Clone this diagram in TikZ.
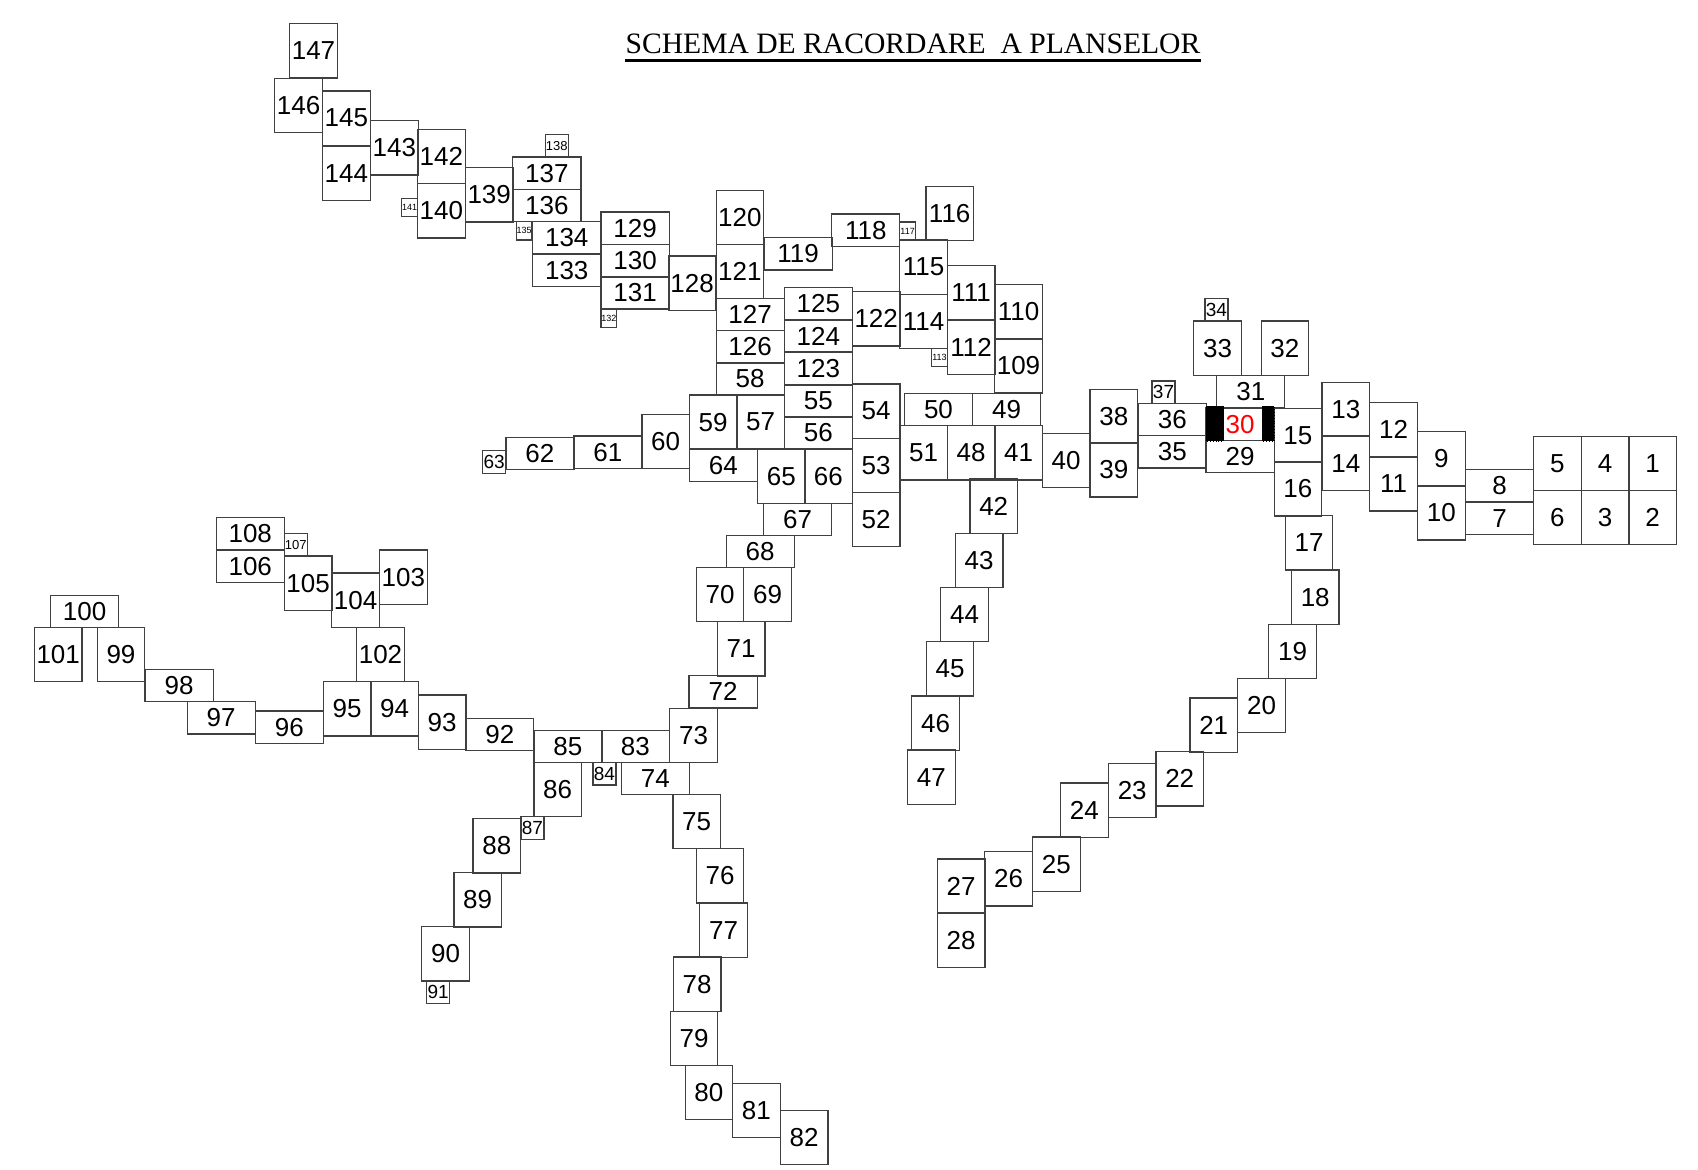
\documentclass[tikz,border=0pt]{standalone}
\usepackage{fontspec}
\setmainfont{Liberation Sans}
\newfontfamily\titlefont{Liberation Serif}
\usepackage{xcolor}
\usepackage{tikz}

\tikzset{
  sheet/.style={draw=black!75,line width=0.6pt,inner sep=0pt,outer sep=0pt,anchor=north west},
  sheetv/.style={sheet,minimum width=23.8pt,minimum height=27.1pt,font=\fontsize{13}{13}\selectfont},
  sheeth/.style={sheet,minimum width=34.05pt,minimum height=16.15pt,font=\fontsize{13}{13}\selectfont},
  sheets/.style={sheet,minimum width=11.5pt,minimum height=11.35pt,font=\fontsize{9.5}{9.5}\selectfont},
  sheett/.style={sheet,minimum width=7.85pt,minimum height=9.15pt,font=\fontsize{4.5}{4.5}\selectfont},
}

\begin{document}
\begin{tikzpicture}[x=0.5pt,y=-0.5pt]
  \useasboundingbox (0,0) rectangle (1698,1169);
  % title
  \node[font=\titlefont\fontsize{14.8}{14.8}\selectfont,anchor=base,inner sep=0pt] (title) at (913,53.3) {SCHEMA DE RACORDARE\ \ A PLANSELOR};
  \draw[line width=1.5pt] ([yshift=-3.4pt]title.base west) -- ([yshift=-3.4pt]title.base east);
  % portrait sheets
  \foreach \n/\x/\y in {147/289.7/23.7,146/274.8/78.3,145/322.6/91,144/322.6/146,143/370.5/120.7,
      142/417.5/129.3,140/417.5/183.7,139/465.4/167.7,128/668.3/256,120/716.1/190.3,121/716.1/244.3,
      116/925.9/186.3,115/899.8/240,114/899.8/294.3,111/947.3/265.7,112/947.3/320,110/994.7/284.7,
      109/994.7/338.7,122/852.4/291.7,33/1193.8/321,32/1261.1/321,59/689.4/395,57/736.8/395,
      60/641.9/414.3,54/852.4/384,53/852.4/438.3,52/852.4/492.3,51/899.8/425.7,48/947.3/425.7,
      41/994.7/425.7,40/1042.2/433.3,38/1090/389.3,39/1090/442.7,65/757.5/449,66/804.5/449,
      70/696.2/567.3,69/743.7/567.3,71/717.3/621.7,73/669.8/708.3,42/969.9/479,43/955.3/533.3,
      44/940.8/587.3,45/926.2/641.7,46/911.7/696,47/907.5/750,105/284.3/556,104/331.8/573,
      103/379.6/550,102/356.7/627.3,101/34.4/627.3,99/97.2/627.3,95/323.4/681.7,94/370.8/681.7,
      93/418.3/695,86/533.9/762.3,88/473/818.7,89/453.9/872.7,90/421.7/926.7,75/672.9/794.3,
      76/696.2/848.7,77/699.7/903,78/673.3/957,79/670.2/1011.3,80/685.1/1065.3,81/732.6/1083.3,
      82/780.4/1110.3,27/937.3/859,28/937.3/913,26/984.8/851.7,25/1032.6/837,24/1060.6/783,
      23/1108.4/763.3,22/1155.9/751.7,21/1189.9/698,20/1237.8/678.3,19/1268.8/624.3,18/1291.4/570,
      17/1285.2/515.7,15/1274.1/408.3,16/1274.1/461.7,13/1322/382.3,14/1322/436,12/1369.8/402.7,
      11/1369.8/456.7,9/1417.6/431.7,10/1417.6/485.7,5/1533.6/436.3,6/1533.6/490.3,4/1581.4/436.3,
      3/1581.4/490.3,1/1628.9/436.3,2/1628.9/490.3}
    \node[sheetv] (s\n) at (\x,\y) {\n};
  % landscape sheets
  \foreach \n/\x/\y in {137/512.8/157,136/512.8/189.3,134/532.7/221.7,133/532.7/254,129/601/212,
      130/601/244.7,131/601/276.7,119/764/237.7,118/831.7/214,127/716.1/298.3,126/716.1/330.7,
      58/716.1/362.7,125/784.3/287.3,124/784.3/320,123/784.3/352,55/784.3/385,56/784.3/416.7,
      61/573.8/436,62/505.9/437.3,50/904.4/393.3,49/972.5/393.3,64/689.4/449,67/763.6/503.3,
      68/726.1/535.3,72/689/675.7,83/601.3/730.3,85/533.9/730.3,74/621.2/762.3,108/216.2/517.7,
      106/216.2/550.3,100/50.5/595.3,98/145/669.3,97/187.1/701.7,96/255.3/711,92/465.7/718.3,
      36/1138.3/403.3,35/1138.3/435.7,31/1216.7/375.3,29/1206/440.3,8/1465.5/469.7,7/1465.5/502.3}
    \node[sheeth] (s\n) at (\x,\y) {\n};
  % sheet 30
  \node[sheeth,text=red] (s30) at (1206,408) {30};
  \filldraw[densely dotted] ([yshift=1pt]s30.north west) rectangle ([xshift=8.8pt,yshift=-0.5pt]s30.south west);
  \filldraw[densely dotted] ([xshift=-6pt,yshift=1pt]s30.north east) rectangle ([yshift=-0.5pt]s30.south east);
  % small sheets
  \foreach \n/\x/\y in {63/482.6/450.7,84/592.9/762.3,87/520.9/816.7,91/426.7/981,37/1152/381,34/1204.9/298.3}
    \node[sheets] (s\n) at (\x,\y) {\n};
  \foreach \n/\x/\y in {138/545.3/134.3,107/284.3/533.3}
    \node[sheets,font=\fontsize{6.5}{6.5}\selectfont] (s\n) at (\x,\y) {\n};
  \foreach \n/\x/\y in {141/401.8/198.3,135/516.3/221.7,117/899.8/222,113/931.6/348.3,132/601/309.3}
    \node[sheett] (s\n) at (\x,\y) {\n};
\end{tikzpicture}
\end{document}
